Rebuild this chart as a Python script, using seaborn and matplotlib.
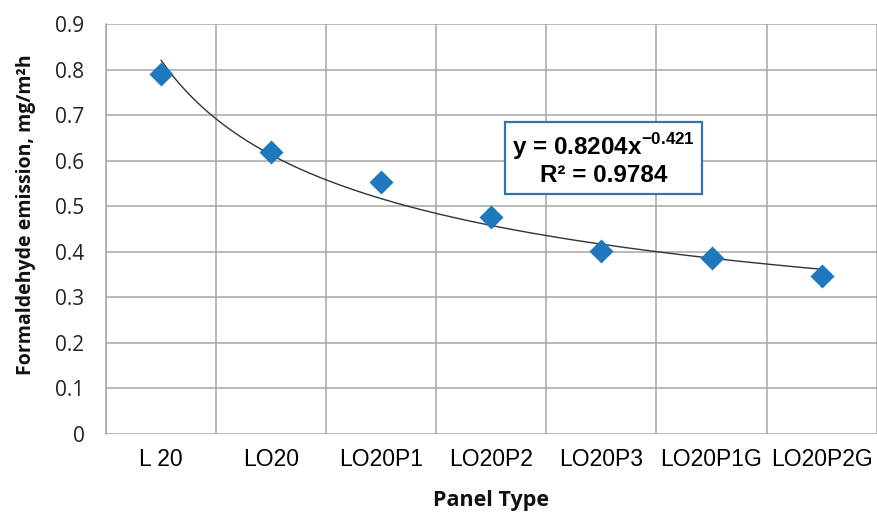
import numpy as np
import pandas as pd
import seaborn as sns
import matplotlib.pyplot as plt
from matplotlib.ticker import FixedLocator

# Data
panels = ["L 20", "LO20", "LO20P1", "LO20P2", "LO20P3", "LO20P1G", "LO20P2G"]
emission = [0.790, 0.618, 0.553, 0.477, 0.401, 0.387, 0.347]

# Power trendline shown on the chart: y = a * x^b
coef_a = 0.8204
coef_b = -0.421
r_squared = 0.9784

y_ticks = [0, 0.1, 0.2, 0.3, 0.4, 0.5, 0.6, 0.7, 0.8, 0.9]
y_labels = ["0", "0.1", "0.2", "0.3", "0.4", "0.5", "0.6", "0.7", "0.8", "0.9"]

df = pd.DataFrame({"pos": np.arange(len(panels)), "panel": panels, "emission": emission})

# trendline over Excel's x = 1..n
x_fit = np.linspace(1, len(panels), 200)
fit = pd.DataFrame({"pos": x_fit - 1, "y": coef_a * x_fit ** coef_b})

sns.set_theme(style="white")
plt.rcParams["mathtext.fontset"] = "custom"
plt.rcParams["mathtext.rm"] = "Liberation Sans"
plt.rcParams["mathtext.bf"] = "Liberation Sans:bold"

grid_c = "#A6A6A6"
blue = "#1E78BE"

fig, ax = plt.subplots(figsize=(8.78, 5.13), dpi=100)
fig.subplots_adjust(left=106 / 878, right=0.9985, top=1 - 24 / 513, bottom=1 - 434 / 513)

sns.lineplot(data=fit, x="pos", y="y", color="#333333", linewidth=1.0, ax=ax, zorder=3)
sns.scatterplot(data=df, x="pos", y="emission", marker="D", s=150, color=blue,
                edgecolor=blue, linewidth=0, ax=ax, zorder=4)

ax.set_xlim(-0.5, len(panels) - 0.5)
ax.set_ylim(0, 0.9)

# category labels in the middle, grid + tick marks on the boundaries
ax.set_xticks(df["pos"])
ax.set_xticklabels(panels, fontfamily="Liberation Sans", fontsize=16.5, color="black")
ax.xaxis.set_minor_locator(FixedLocator(np.arange(-0.5, len(panels), 1.0)))
ax.tick_params(axis="x", which="major", length=0, pad=10)
ax.tick_params(axis="x", which="minor", length=6, width=1.1, color=grid_c, direction="out")
ax.grid(True, axis="x", which="minor", color=grid_c, linewidth=1.1)

ax.set_yticks(y_ticks)
ax.set_yticklabels(y_labels, fontfamily="Open Sans", fontsize=15, color="#222222")
ax.tick_params(axis="y", length=6.5, width=1.1, color=grid_c, direction="out", pad=9)
ax.grid(True, axis="y", which="major", color=grid_c, linewidth=1.1)

for side in ["top", "right", "bottom"]:
    ax.spines[side].set_visible(False)
ax.spines["left"].set_color(grid_c)
ax.spines["left"].set_linewidth(1.1)
ax.set_axisbelow(True)

ax.set_xlabel("Panel Type", fontfamily="Open Sans", fontweight="bold", fontsize=15.5, color="#111111")
ax.set_ylabel("Formaldehyde emission, mg/m²h", fontfamily="Open Sans", fontweight="bold",
              fontsize=14, color="#111111")
ax.xaxis.label.set_va("center")
ax.yaxis.label.set_va("center")
ax.xaxis.set_label_coords(0.5, -0.161)
ax.yaxis.set_label_coords(-0.104, 0.534)

eq_text = f"y = {coef_a}x" + r"$^{\mathbf{" + f"{coef_b}" + "}}$" + f"\nR² = {r_squared}"
ax.text(0.6457, 0.6707, eq_text, transform=ax.transAxes, ha="center", va="center",
        multialignment="center", fontfamily="Liberation Sans", fontweight="bold",
        fontsize=17.5, color="black", zorder=5, linespacing=1.1,
        bbox=dict(boxstyle="square,pad=0.3", fc="white", ec="#2E75B6", lw=1.6))

plt.savefig("out.png", dpi=100)
